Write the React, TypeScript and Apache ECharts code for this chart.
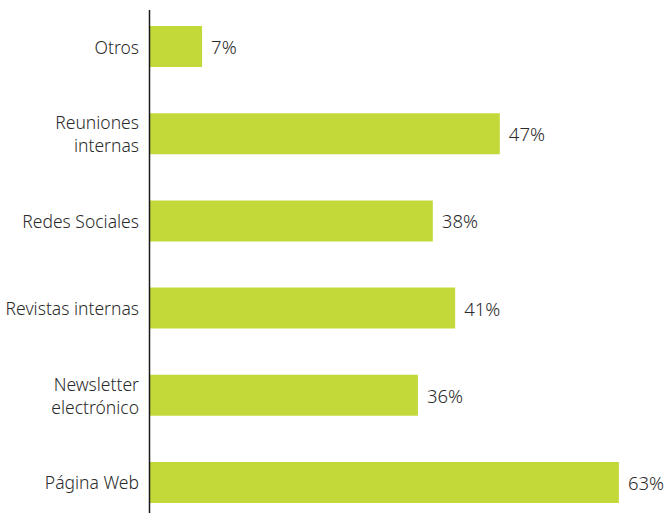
import React, { useEffect, useRef } from "react";
import * as echarts from "echarts";

const categories = [
  "Página Web",
  "Newsletter\nelectrónico",
  "Revistas internas",
  "Redes Sociales",
  "Reuniones\ninternas",
  "Otros",
];
const values = [63, 36, 41, 38, 47, 7];

const FONT = "'Noto Sans', 'Open Sans', sans-serif";

export default function App() {
  const ref = useRef<HTMLDivElement>(null);
  useEffect(() => {
    if (!ref.current) return;
    const chart = echarts.init(ref.current, null, { renderer: "svg" });
    chart.setOption({
      animation: false,
      backgroundColor: "#ffffff",
      grid: { left: 150, top: 3, right: 0, bottom: 0, containLabel: false },
      xAxis: {
        type: "value",
        min: 0,
        max: 70,
        show: false,
      },
      yAxis: {
        type: "category",
        data: categories,
        axisLine: { show: false },
        axisTick: { show: false },
        axisLabel: {
          margin: 11,
          color: "#2a2a2a",
          fontFamily: FONT,
          fontSize: 17.5,
          fontWeight: 300,
          lineHeight: 23,
          align: "right",
        },
        splitLine: { show: false },
      },
      series: [
        {
          type: "bar",
          data: values,
          barWidth: 41,
          itemStyle: { color: "#c3d93a" },
          label: {
            show: true,
            position: "right",
            distance: 9,
            formatter: "{c}%",
            color: "#2a2a2a",
            fontFamily: FONT,
            fontSize: 18.5,
            fontWeight: 300,
          },
        },
      ],
      graphic: [
        {
          type: "line",
          shape: { x1: 149.5, y1: 10, x2: 149.5, y2: 513 },
          style: { stroke: "#1a1a1a", lineWidth: 1.5 },
          z: 10,
        },
      ],
    });
    return () => chart.dispose();
  }, []);
  return (
    <div
      style={{
        position: "fixed",
        left: 0,
        top: 0,
        width: 671,
        height: 513,
        overflow: "hidden",
        background: "#ffffff",
      }}
    >
      <div ref={ref} style={{ width: 671, height: 526 }} />
    </div>
  );
}
